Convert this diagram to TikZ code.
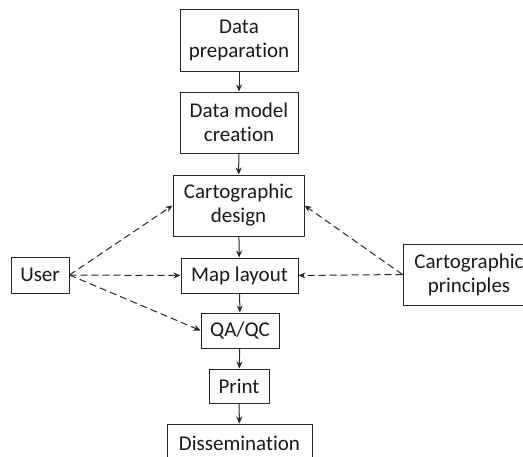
\documentclass[tikz,border=0pt]{standalone}
\usepackage{fontspec}
\setmainfont[Ligatures=NoCommon]{Carlito}
\usetikzlibrary{arrows.meta}
\begin{document}
\begin{tikzpicture}[x=1pt,y=-1pt,
  box/.style={draw=black!85, line width=1pt, rectangle, inner sep=0pt, align=center,
    font=\fontsize{21}{24}\selectfont, text=black!90},
  flow/.style={draw=black!85, line width=1pt, -{Stealth[length=7pt,width=6pt]}},
  dflow/.style={draw=black!85, line width=1pt, dash pattern=on 7pt off 4pt, -{Stealth[length=7pt,width=6pt]}}]
\useasboundingbox (0,0) rectangle (523,456);
\node[box, minimum width=118pt, minimum height=62pt] (prep) at (239,40) {Data\\preparation};
\node[box, minimum width=118pt, minimum height=61pt] (model) at (239,122.5) {Data model\\creation};
\node[box, minimum width=131pt, minimum height=61pt] (design) at (238.5,205.5) {Cartographic\\design};
\node[box, minimum width=117pt, minimum height=35pt] (layout) at (239.5,275.5) {Map layout};
\node[box, minimum width=78pt, minimum height=35pt] (qa) at (240,330.5) {QA/QC};
\node[box, minimum width=60pt, minimum height=34pt] (print) at (239,386) {Print};
\node[box, minimum width=145pt, minimum height=38pt] (diss) at (239.5,443) {Dissemination};
\node[box, minimum width=58pt, minimum height=36pt] (user) at (40,275) {User};
\node[box, minimum width=132pt, minimum height=61pt] (princ) at (469,274.5) {Cartographic\\principles};
\draw[flow] (prep) -- (model);
\draw[flow] (model) -- (design);
\draw[flow] (design) -- (layout);
\draw[flow] (layout) -- (qa);
\draw[flow] (qa) -- (print);
\draw[flow] (print) -- (diss);
\draw[dflow] (user.east) -- (design.west);
\draw[dflow] (user.east) -- (layout.west);
\draw[dflow] (user.east) -- (qa.west);
\draw[dflow] (princ.west) -- (design.east);
\draw[dflow] (princ.west) -- (layout.east);
\end{tikzpicture}
\end{document}
